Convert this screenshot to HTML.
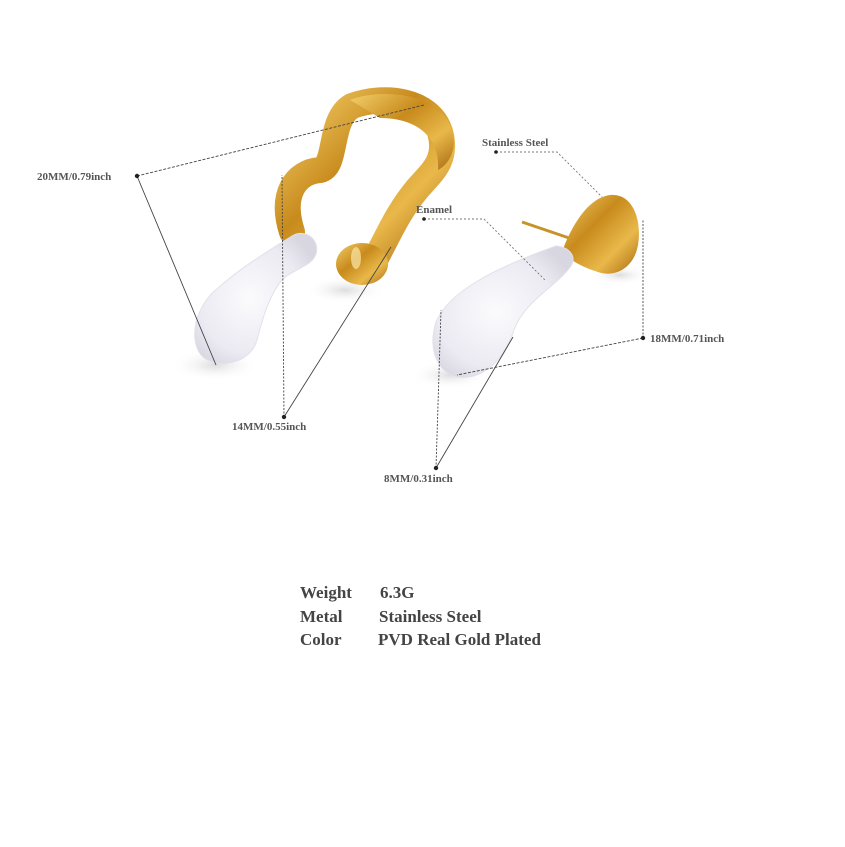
<!DOCTYPE html>
<html><head><meta charset="utf-8"><style>
html,body{margin:0;padding:0;background:#fff;}
svg{display:block}
.t{font-family:"Liberation Serif",serif;font-weight:bold;fill:#555;font-size:11px}
.b{font-family:"Liberation Serif",serif;font-weight:bold;fill:#444;font-size:17px}
</style></head><body>
<svg width="845" height="847" viewBox="0 0 845 847" xmlns="http://www.w3.org/2000/svg">
<defs>
<linearGradient id="g" x1="0" y1="0" x2="1" y2="1">
<stop offset="0" stop-color="#f3cf6a"/><stop offset="0.4" stop-color="#c88a1c"/><stop offset="0.7" stop-color="#e9b84a"/><stop offset="1" stop-color="#a86a10"/></linearGradient>
<radialGradient id="e" cx="0.45" cy="0.5" r="0.6"><stop offset="0" stop-color="#fbfbfd"/><stop offset="0.7" stop-color="#eceaf2"/><stop offset="1" stop-color="#d8d6e0"/></radialGradient>
<radialGradient id="sh" cx="0.5" cy="0.5" r="0.5"><stop offset="0" stop-color="#ddd"/><stop offset="1" stop-color="#fff" stop-opacity="0"/></radialGradient>
</defs>
<ellipse cx="215" cy="365" rx="45" ry="16" fill="url(#sh)"/>
<ellipse cx="345" cy="290" rx="40" ry="14" fill="url(#sh)"/>
<ellipse cx="450" cy="375" rx="40" ry="14" fill="url(#sh)"/>
<ellipse cx="620" cy="275" rx="30" ry="10" fill="url(#sh)"/>
<!-- left gold -->
<path d="M292,232 C280,195 295,172 320,170 C338,166 328,120 352,106 C385,94 430,100 440,132 C448,160 432,172 418,188 C398,212 390,232 376,258" fill="none" stroke="url(#g)" stroke-width="26" stroke-linecap="round" stroke-linejoin="round"/>
<path d="M350,100 C380,88 440,92 452,130 C458,150 448,165 438,170 C440,140 420,118 380,118 Z" fill="url(#g)"/>
<ellipse cx="362" cy="264" rx="26" ry="21" fill="url(#g)"/>
<ellipse cx="356" cy="258" rx="5" ry="11" fill="#fbe7a8" opacity="0.7"/>
<!-- left enamel -->
<path d="M292,236 C306,228 320,240 316,254 C312,266 296,268 284,278 C270,292 262,320 257,340 C250,365 215,370 201,355 C188,338 196,305 218,288 C240,268 270,250 292,236 Z" fill="url(#e)" stroke="#e2e0ea"/>
<!-- right gold -->
<line x1="522" y1="222" x2="575" y2="240" stroke="#c8922a" stroke-width="3"/>
<path d="M562,252 C572,225 588,198 610,195 C633,193 642,220 638,245 C634,268 615,278 598,272 C585,268 572,262 562,252 Z" fill="url(#g)"/>
<!-- right enamel -->
<path d="M556,246 C569,247 577,256 571,266 C556,287 525,300 514,330 C503,362 482,380 458,377 C436,372 428,348 436,322 C448,292 495,268 556,246 Z" fill="url(#e)" stroke="#e2e0ea"/>
<g stroke="#444" stroke-width="0.9" fill="none">
<line x1="137" y1="176" x2="424" y2="105" stroke-dasharray="3,1.5"/>
<line x1="137" y1="176" x2="216" y2="365"/>
<line x1="284" y1="417" x2="282" y2="175" stroke-dasharray="2,1.5"/>
<line x1="284" y1="417" x2="391" y2="247"/>
<polyline points="496,152 557,152 602,197" stroke-dasharray="2,2" stroke="#777"/>
<polyline points="424,219 484,219 545,280" stroke-dasharray="2,2" stroke="#777"/>
<line x1="643" y1="338" x2="643" y2="220" stroke-dasharray="2,1.5"/>
<line x1="643" y1="338" x2="457" y2="375" stroke-dasharray="3,1.5"/>
<line x1="436" y1="468" x2="441" y2="310" stroke-dasharray="2,1.5"/>
<line x1="436" y1="468" x2="513" y2="337"/>
</g>
<g fill="#222">
<circle cx="137" cy="176" r="2.2"/><circle cx="284" cy="417" r="2.2"/><circle cx="496" cy="152" r="1.8"/>
<circle cx="424" cy="219" r="1.8"/><circle cx="643" cy="338" r="2.2"/><circle cx="436" cy="468" r="2.2"/>
</g>
<text class="t" x="37" y="180">20MM/0.79inch</text>
<text class="t" x="232" y="430">14MM/0.55inch</text>
<text class="t" x="482" y="146">Stainless Steel</text>
<text class="t" x="416" y="213">Enamel</text>
<text class="t" x="650" y="342">18MM/0.71inch</text>
<text class="t" x="384" y="482">8MM/0.31inch</text>
<text class="b" x="300" y="598">Weight</text><text class="b" x="380" y="598">6.3G</text>
<text class="b" x="300" y="622">Metal</text><text class="b" x="379" y="622">Stainless Steel</text>
<text class="b" x="300" y="645">Color</text><text class="b" x="378" y="645">PVD Real Gold Plated</text>
</svg>
</body></html>
